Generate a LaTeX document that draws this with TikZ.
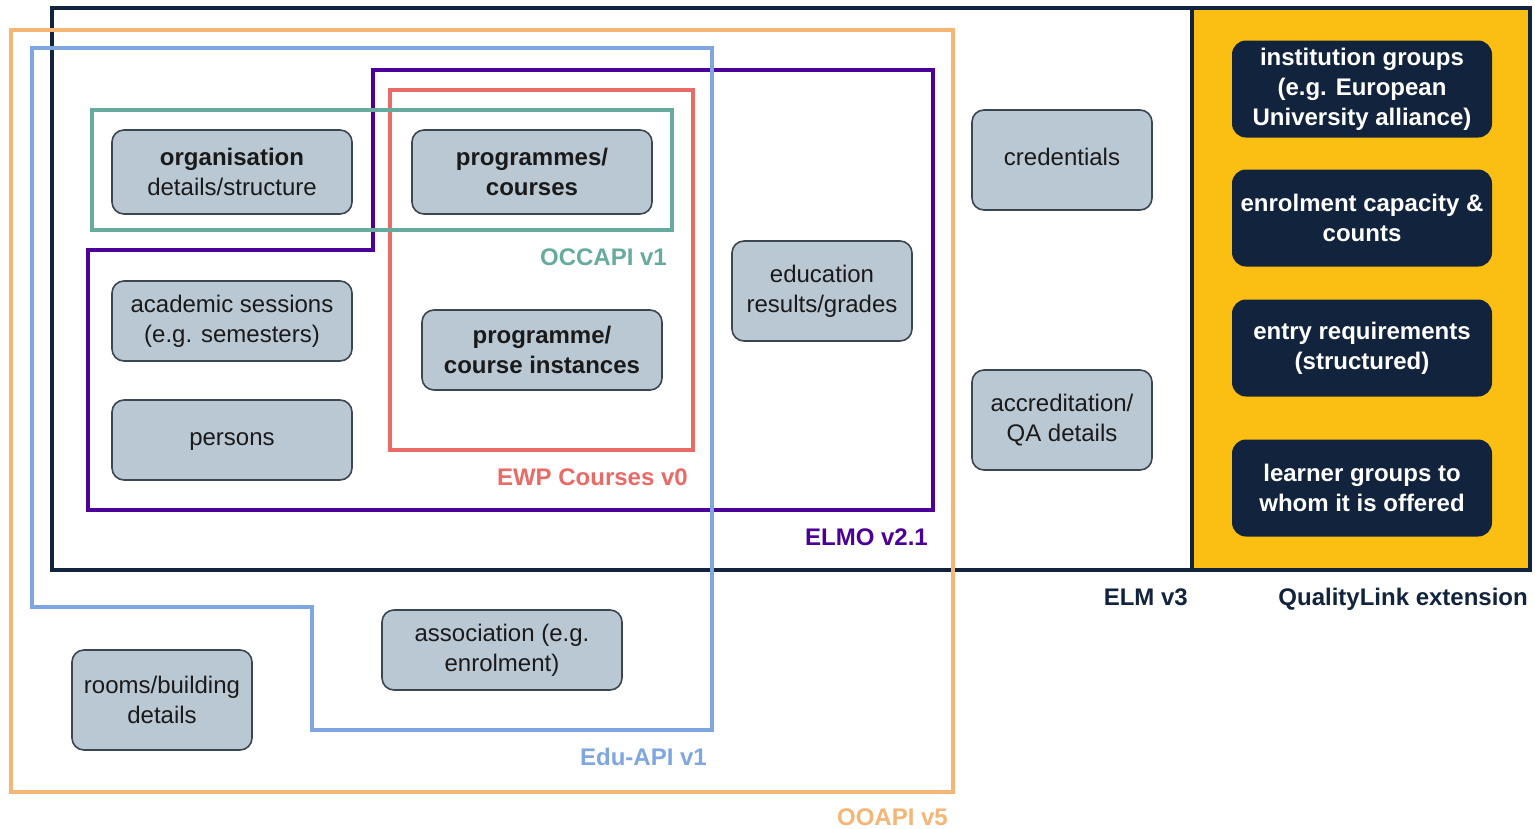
\documentclass[tikz,border=0pt]{standalone}
\usepackage{fontspec}
\setmainfont{Liberation Sans}
\definecolor{cOrange}{HTML}{F5B574}
\definecolor{cBlue}{HTML}{7EA6E0}
\definecolor{cPurple}{HTML}{4C0099}
\definecolor{cRed}{HTML}{EA6B66}
\definecolor{cGreen}{HTML}{67AB9F}
\definecolor{cNavy}{HTML}{12243D}
\definecolor{cYellow}{HTML}{FBBF14}
\definecolor{cFill}{HTML}{BAC8D3}
\definecolor{cStroke}{HTML}{3C4650}
\definecolor{cText}{HTML}{1A1A1A}
\tikzset{
  txt/.style={font=\fontsize{24}{30}\selectfont},
  gbox/.style={txt, draw=cStroke, line width=1.6pt, fill=cFill, rounded corners=12pt,
    align=center, inner sep=0pt, minimum width=240pt, minimum height=84pt, text=cText},
  sbox/.style={gbox, minimum width=180pt, minimum height=100pt},
  nbox/.style={txt, fill=cNavy, rounded corners=14pt, align=center, inner sep=0pt,
    minimum width=260pt, minimum height=97pt, text=white, font=\fontsize{24}{30}\selectfont\bfseries},
  frame/.style={line width=4.5pt, line join=miter},
  lbl/.style={txt, font=\fontsize{24}{30}\selectfont\bfseries, anchor=base east, inner sep=0pt},
  oneline/.style={text height=12pt, text depth=2pt},
}
\begin{document}
\begin{tikzpicture}[x=1pt,y=-1pt]
\useasboundingbox[fill=white] (0,0) rectangle (1535,828);
% ELM v3 + QualityLink
\draw[frame, cNavy, fill=cYellow] (1192,8) rectangle (1530,570);
\draw[frame, cNavy] (52,8) rectangle (1530,570);
% OOAPI v5
\draw[frame, cOrange, line width=4pt] (11,30) rectangle (953,792);
% ELMO v2.1
\draw[frame, cPurple] (373,70) -- (933,70) -- (933,510) -- (88,510) -- (88,250) -- (373,250) -- cycle;
% EWP Courses v0
\draw[frame, cRed] (390,90) rectangle (693,450);
% OCCAPI v1
\draw[frame, cGreen] (92,110) rectangle (672,230);
% Edu-API v1
\draw[frame, cBlue] (32,48) -- (712,48) -- (712,730) -- (312,730) -- (312,607) -- (32,607) -- cycle;

% grey nodes
\node[gbox] (org) at (232,172) {\textbf{organisation}\\details/structure};
\node[gbox] (prog) at (532,172) {\textbf{programmes/}\\\textbf{courses}};
\node[gbox, minimum height=80pt] (acad) at (232,321) {academic sessions\\(e.g. semesters)};
\node[gbox, minimum height=80pt, oneline] (pers) at (232,440) {persons};
\node[gbox, minimum height=80pt] (inst) at (542,350) {\textbf{programme/}\\\textbf{course instances}};
\node[sbox] (edu) at (822,291) {education\\results/grades};
\node[sbox, oneline] (cred) at (1062,160) {credentials};
\node[sbox] (accr) at (1062,420) {accreditation/\\QA details};
\node[gbox, minimum height=80pt] (assoc) at (502,650) {association (e.g.\\enrolment)};
\node[sbox] (rooms) at (162,700) {rooms/building\\details};

% navy nodes
\node[nbox] (igrp) at (1362,89) {institution groups\\(e.g. European\\University alliance)};
\node[nbox] (ecap) at (1362,218) {enrolment capacity \&\\counts};
\node[nbox] (ereq) at (1362,348) {entry requirements\\(structured)};
\node[nbox] (lgrp) at (1362,488) {learner groups to\\whom it is offered};

% labels
\node[lbl, text=cGreen] (lOcc) at (667,265.6) {OCCAPI v1};
\node[lbl, text=cRed] (lEwp) at (688,485.6) {EWP Courses v0};
\node[lbl, text=cPurple] (lElmo) at (928,545.6) {ELMO v2.1};
\node[lbl, text=cBlue] (lEdu) at (707,765.6) {Edu-API v1};
\node[lbl, text=cOrange] (lOo) at (948,825.6) {OOAPI v5};
\node[lbl, text=cNavy] (lElm) at (1188,605.6) {ELM v3};
\node[lbl, text=cNavy] (lQl) at (1528,605.6) {QualityLink extension};
\end{tikzpicture}
\end{document}
